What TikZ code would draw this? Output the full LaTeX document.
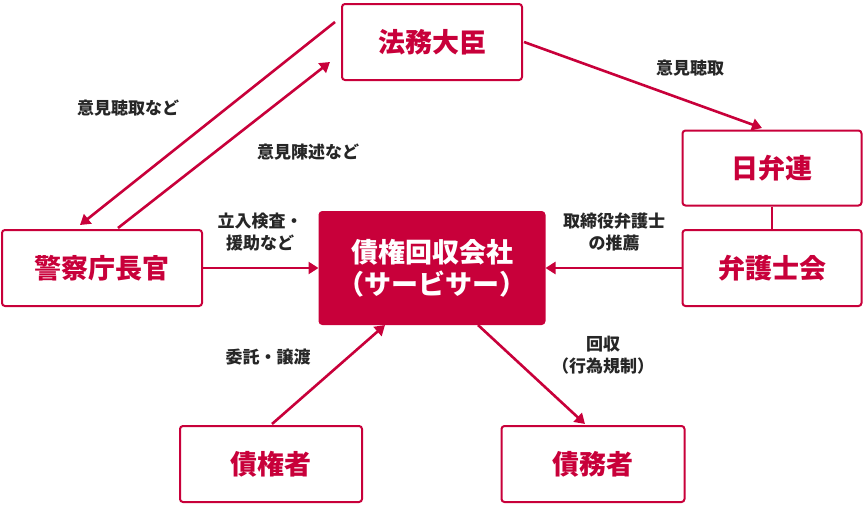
\documentclass[tikz,border=0pt]{standalone}
\usepackage{fontspec}
\setmainfont{Noto Sans CJK JP}
\usetikzlibrary{arrows.meta}
\definecolor{cr}{HTML}{C8003A}
\begin{document}
\begin{tikzpicture}[x=1pt,y=-1pt,
 box/.style={draw=cr,line width=2pt,rounded corners=3pt,text=cr,font=\fontsize{27}{32}\selectfont\bfseries,align=center,inner sep=0pt},
 arr/.style={draw=cr,line width=2.6pt,-{Triangle[length=10pt,width=12pt]}},
 lab/.style={font=\fontsize{17}{22}\selectfont\bfseries,align=center,text=black!85}]
\useasboundingbox (0,0) rectangle (865,506);
\node[box,minimum width=180pt,minimum height=76pt] (hm) at (432,42) {法務大臣};
\node[box,minimum width=179pt,minimum height=75pt] (nb) at (772,168) {日弁連};
\node[box,minimum width=179pt,minimum height=76pt] (bg) at (772,268) {弁護士会};
\node[box,minimum width=200pt,minimum height=76pt] (kc) at (102,268) {警察庁長官};
\node[box,fill=cr,text=white,minimum width=225pt,minimum height=112pt] (sv) at (432,268) {債権回収会社\\（サービサー）};
\node[box,minimum width=182pt,minimum height=76pt] (sk) at (271,464) {債権者};
\node[box,minimum width=183pt,minimum height=76pt] (sm) at (593,464) {債務者};
\draw[cr,line width=2pt] (nb) -- (bg);
\coordinate (a1) at (335,22); \coordinate (a2) at (80,225);
\coordinate (b1) at (118,228); \coordinate (b2) at (330,62);
\coordinate (c1) at (524,42); \coordinate (c2) at (762,128);
\draw[arr] (a1) -- (a2);
\draw[arr] (b1) -- (b2);
\draw[arr] (c1) -- (c2);
\draw[arr] (kc.east) -- (sv.west);
\draw[arr] (bg.west) -- (sv.east);
\coordinate (d1) at (272,424); \coordinate (d2) at (385,325);
\coordinate (e1) at (478,325); \coordinate (e2) at (585,424);
\draw[arr] (d1) -- (d2);
\draw[arr] (e1) -- (e2);
\node[lab] (l1) at (128,108) {意見聴取など};
\node[lab] (l2) at (308,152) {意見陳述など};
\node[lab] (l3) at (690,68) {意見聴取};
\node[lab] (l4) at (260,232) {立入検査・\\援助など};
\node[lab] (l5) at (614,232) {取締役弁護士\\の推薦};
\node[lab] (l6) at (268,357) {委託・譲渡};
\node[lab] (l7) at (603,355) {回収\\（行為規制）};
\end{tikzpicture}
\end{document}
